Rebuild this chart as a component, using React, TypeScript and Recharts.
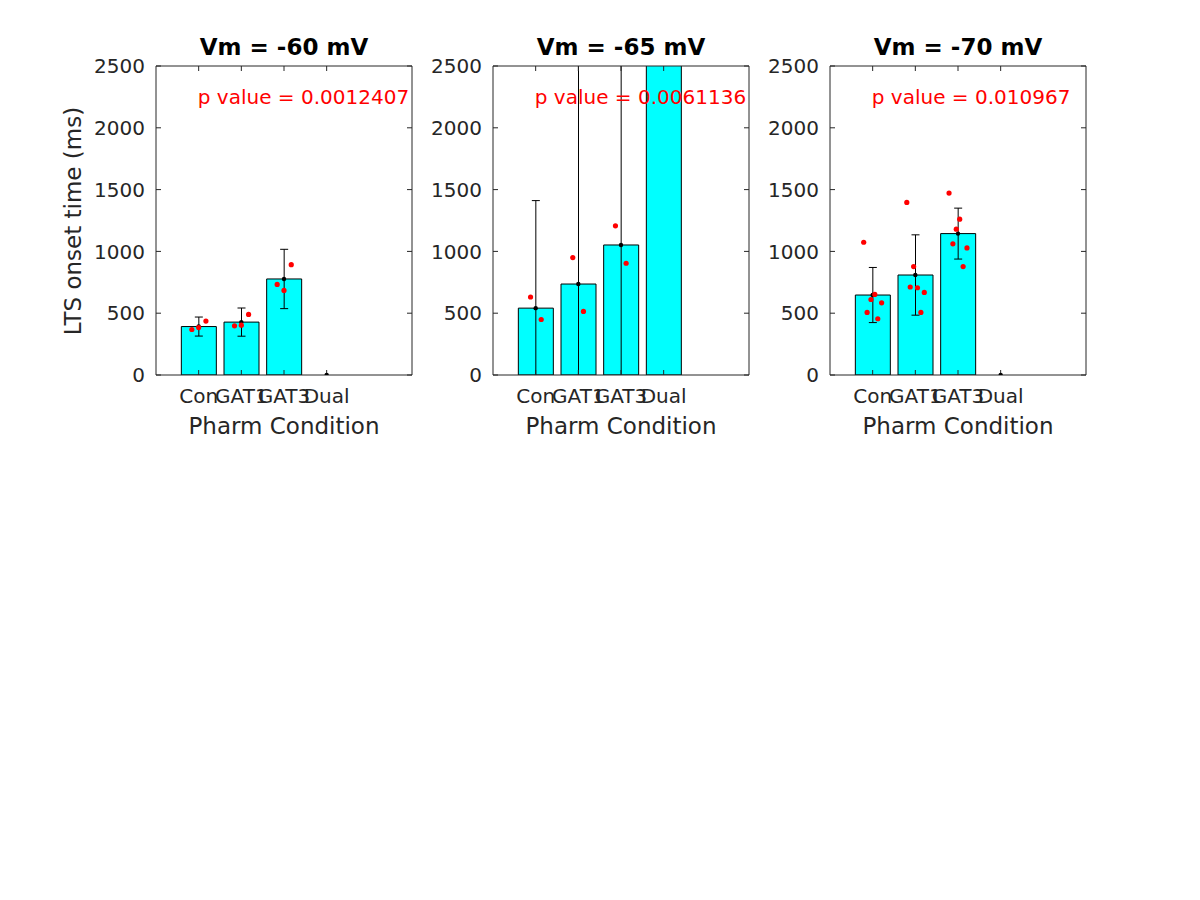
import React from 'react';
import { ComposedChart, Bar, Scatter, XAxis, YAxis, ErrorBar, ReferenceDot } from 'recharts';

// ---------- data ----------
const categories = ['Con', 'GAT1', 'GAT3', 'Dual'];
const catX = [1, 2, 3, 4];
const yTicks = [0, 500, 1000, 1500, 2000, 2500];

const titles = ['Vm = -60 mV', 'Vm = -65 mV', 'Vm = -70 mV'];
const pValues = ['0.0012407', '0.0061136', '0.010967'];

const means60 = [392, 428, 777, 0];
const errs60 = [77, 114, 240, 25];
const means65 = [541, 736, 1052, 3000];
const errs65 = [870, 2100, 1700, 0];
const means70 = [647, 809, 1144, 0];
const errs70 = [223, 325, 206, 25];

// individual cells (x = category position + jitter)
const dotsX60 = [0.84, 1.0, 1.17, 1.84, 2.0, 2.17, 2.84, 3.0, 3.17];
const dotsY60 = [368, 384, 436, 398, 403, 490, 733, 684, 893];

const dotsX65 = [0.88, 1.13, 1.87, 2.12, 2.87, 3.12];
const dotsY65 = [631, 449, 950, 514, 1207, 904];

const dotsX70 = [0.79, 1.05, 0.96, 1.21, 0.87, 1.12, 1.8, 1.96, 1.88, 2.05, 2.21, 2.13, 2.79, 3.04, 2.96, 2.88, 3.21, 3.12];
const dotsY70 = [1074, 652, 611, 584, 506, 455, 1396, 877, 712, 706, 668, 506, 1472, 1261, 1180, 1061, 1028, 877];

const panels = [
  { means: means60, errs: errs60, dx: dotsX60, dy: dotsY60 },
  { means: means65, errs: errs65, dx: dotsX65, dy: dotsY65 },
  { means: means70, errs: errs70, dx: dotsX70, dy: dotsY70 },
];

// ---------- layout ----------
const AX_LEFTS = [156, 493, 830];
const PLOT_W = 256;
const PLOT_TOP = 66;
const PLOT_BOTTOM = 375;
const PLOT_LEFT_IN_CHART = 100;
const CHART_W = 400;
const CHART_H = 460;
const FONT = 'DejaVu Sans, Liberation Sans, sans-serif';
const AXIS_COLOR = '#262626';

const tickStyle = { fill: AXIS_COLOR, fontSize: 20, fontFamily: FONT };

function Panel({ idx }: { idx: number }) {
  const p = panels[idx];
  const barData = catX.map((x, i) => ({ x, mean: p.means[i], err: p.errs[i] }));
  const dotData = p.dx.map((x, i) => ({ x, y: p.dy[i] }));
  const meanData = catX.map((x, i) => ({ x, y: p.means[i] }));

  return (
    <div className="panel" style={{ position: 'absolute', left: AX_LEFTS[idx] - PLOT_LEFT_IN_CHART, top: 0 }}>
      <ComposedChart
        width={CHART_W}
        height={CHART_H}
        data={barData}
        margin={{ top: PLOT_TOP - 1, right: 40, bottom: CHART_H - PLOT_BOTTOM - 30, left: 40 }}
      >
        <XAxis
          xAxisId="b"
          dataKey="x"
          type="number"
          domain={[0, 6]}
          ticks={catX}
          interval={0}
          allowDataOverflow
          height={30}
          tickSize={-5}
          tickMargin={19}
          tickFormatter={(v: number) => categories[v - 1] ?? ''}
          tick={tickStyle}
          axisLine={{ stroke: AXIS_COLOR }}
          tickLine={{ stroke: AXIS_COLOR }}
        />
        <XAxis
          xAxisId="t"
          orientation="top"
          dataKey="x"
          type="number"
          domain={[0, 6]}
          ticks={catX}
          interval={0}
          allowDataOverflow
          height={1}
          tickSize={-5}
          tickFormatter={() => ''}
          axisLine={{ stroke: AXIS_COLOR }}
          tickLine={{ stroke: AXIS_COLOR }}
        />
        <XAxis
          xAxisId="s"
          dataKey="x"
          type="number"
          domain={[0, 6]}
          allowDataOverflow
          hide
        />
        <YAxis
          yAxisId="l"
          type="number"
          domain={[0, 2500]}
          ticks={yTicks}
          interval={0}
          allowDataOverflow
          width={60}
          tickSize={-5}
          tickMargin={16}
          tick={tickStyle}
          axisLine={{ stroke: AXIS_COLOR }}
          tickLine={{ stroke: AXIS_COLOR }}
        />
        <YAxis
          yAxisId="r"
          orientation="right"
          type="number"
          domain={[0, 2500]}
          ticks={yTicks}
          interval={0}
          allowDataOverflow
          width={4}
          tickSize={-5}
          tickFormatter={() => ''}
          axisLine={{ stroke: AXIS_COLOR }}
          tickLine={{ stroke: AXIS_COLOR }}
        />
        <Bar
          xAxisId="b"
          yAxisId="l"
          dataKey="mean"
          barSize={35}
          fill="#00ffff"
          stroke="#000000"
          strokeWidth={1}
          isAnimationActive={false}
        >
          <ErrorBar dataKey="err" direction="y" width={4} stroke="#000000" strokeWidth={1} />
        </Bar>
        <Scatter
          xAxisId="s"
          yAxisId="l"
          data={meanData}
          dataKey="y"
          isAnimationActive={false}
          shape={(props: any) => <circle cx={props.cx} cy={props.cy} r={2.2} fill="#000000" />}
        />
        <Scatter
          xAxisId="s"
          yAxisId="l"
          data={dotData}
          dataKey="y"
          isAnimationActive={false}
          shape={(props: any) => <circle cx={props.cx} cy={props.cy} r={2.6} fill="#ff0000" />}
        />
        <ReferenceDot
          xAxisId="b"
          yAxisId="l"
          x={0.98}
          y={2250}
          r={0}
          stroke="none"
          fill="none"
          label={{
            value: `p value = ${pValues[idx]}`,
            position: 'right',
            offset: 0,
            fill: '#ff0000',
            fontSize: 20,
            fontFamily: FONT,
          }}
        />
      </ComposedChart>
    </div>
  );
}

export default function App() {
  return (
    <div style={{ position: 'absolute', left: 0, top: 0, width: 1200, height: 900, background: '#fff' }}>
      <style>{'.panel .recharts-errorBars, .panel .recharts-errorBar { clip-path: url(#plotAreaClip); }'}</style>
      <svg width={0} height={0} style={{ position: 'absolute' }}>
        <defs>
          <clipPath id="plotAreaClip" clipPathUnits="userSpaceOnUse">
            <rect x={PLOT_LEFT_IN_CHART} y={PLOT_TOP} width={PLOT_W} height={PLOT_BOTTOM - PLOT_TOP} />
          </clipPath>
        </defs>
      </svg>
      {[0, 1, 2].map((i) => (
        <Panel key={i} idx={i} />
      ))}
      <svg
        width={1200}
        height={900}
        style={{ position: 'absolute', left: 0, top: 0, pointerEvents: 'none' }}
      >
        {AX_LEFTS.map((l, i) => (
          <g key={i}>
            <text
              x={l + PLOT_W / 2}
              y={55}
              textAnchor="middle"
              fontFamily={FONT}
              fontWeight="bold"
              fontSize={23}
              fill="#000000"
            >
              {titles[i]}
            </text>
            <text
              x={l + PLOT_W / 2}
              y={434}
              textAnchor="middle"
              fontFamily={FONT}
              fontSize={23}
              fill={AXIS_COLOR}
            >
              Pharm Condition
            </text>
          </g>
        ))}
        <text
          transform="translate(81, 221) rotate(-90)"
          textAnchor="middle"
          fontFamily={FONT}
          fontSize={23}
          fill={AXIS_COLOR}
        >
          LTS onset time (ms)
        </text>
      </svg>
    </div>
  );
}
